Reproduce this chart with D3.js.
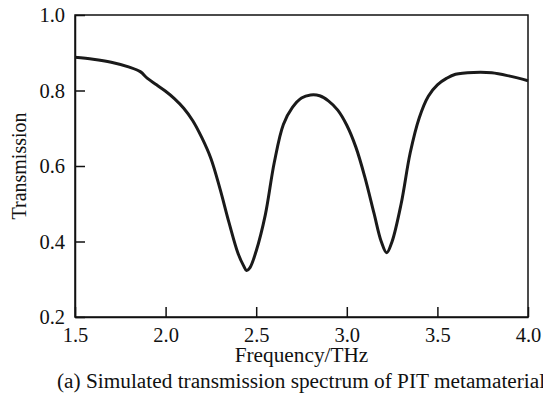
<!DOCTYPE html>
<html>
<head>
<meta charset="utf-8">
<script src="https://cdn.jsdelivr.net/npm/d3@7"></script>
<style>
  body { margin: 0; background: #fff; }
  text { font-family: "Liberation Serif", "Times New Roman", serif; fill: #111; }
</style>
</head>
<body>
<div id="chart"></div>
<script>
// frequency (THz) and transmission
const freq = [1.5, 1.6, 1.7, 1.8, 1.86, 1.9, 1.95, 2.0, 2.05, 2.1, 2.15, 2.2, 2.25, 2.3, 2.35, 2.4, 2.43, 2.447, 2.465, 2.5, 2.55, 2.6, 2.65, 2.7, 2.75, 2.8, 2.85, 2.9, 2.95, 3.0, 3.05, 3.1, 3.15, 3.19, 3.22, 3.25, 3.3, 3.35, 3.4, 3.45, 3.5, 3.55, 3.6, 3.7, 3.8, 3.9, 4.0];
const trans = [0.888, 0.883, 0.875, 0.862, 0.850, 0.832, 0.815, 0.798, 0.778, 0.753, 0.720, 0.675, 0.620, 0.540, 0.450, 0.368, 0.336, 0.323, 0.330, 0.375, 0.470, 0.610, 0.710, 0.755, 0.780, 0.788, 0.786, 0.772, 0.748, 0.708, 0.650, 0.570, 0.475, 0.400, 0.370, 0.400, 0.500, 0.635, 0.728, 0.785, 0.815, 0.832, 0.843, 0.848, 0.847, 0.838, 0.826];

const xTicks = [1.5, 2.0, 2.5, 3.0, 3.5, 4.0];
const yTicks = [0.2, 0.4, 0.6, 0.8, 1.0];

const xTitle = "Frequency/THz";
const yTitle = "Transmission";
const caption = "(a) Simulated transmission spectrum of PIT metamaterial";

const W = 543, H = 399;
const margin = {top: 15, right: 15, bottom: 82, left: 75};
const width = W - margin.left - margin.right;
const height = H - margin.top - margin.bottom;

const svg = d3.select("#chart").append("svg")
    .attr("width", W)
    .attr("height", H);

const g = svg.append("g")
    .attr("transform", `translate(${margin.left},${margin.top})`);

const x = d3.scaleLinear().domain([1.5, 4.0]).range([0, width]);
const y = d3.scaleLinear().domain([0.2, 1.0]).range([height, 0]);

// frame
g.append("rect")
    .attr("width", width)
    .attr("height", height)
    .attr("fill", "none")
    .attr("stroke", "#111")
    .attr("stroke-width", 1.5);

// axes with inward ticks
const xAxis = g.append("g")
    .attr("transform", `translate(0,${height})`)
    .call(d3.axisBottom(x).tickValues(xTicks).tickFormat(d3.format(".1f"))
        .tickSizeInner(-10).tickSizeOuter(0).tickPadding(10));

const yAxis = g.append("g")
    .call(d3.axisLeft(y).tickValues(yTicks).tickFormat(d3.format(".1f"))
        .tickSizeInner(-10).tickSizeOuter(0).tickPadding(10));

[xAxis, yAxis].forEach(a => {
    a.select(".domain").attr("stroke", "#111").attr("stroke-width", 1.5);
    a.selectAll(".tick line").attr("stroke", "#111").attr("stroke-width", 1.5);
    a.selectAll(".tick text")
        .attr("font-family", "Liberation Serif")
        .attr("font-size", 20.5)
        .attr("fill", "#111");
});

// curve
const pts = freq.map((f, i) => [f, trans[i]]);
const line = d3.line()
    .x(d => x(d[0]))
    .y(d => y(d[1]))
    .curve(d3.curveCatmullRom.alpha(0.5));

g.append("path")
    .datum(pts)
    .attr("d", line)
    .attr("fill", "none")
    .attr("stroke", "#1a1a1a")
    .attr("stroke-width", 3);

// titles
svg.append("text")
    .attr("x", margin.left + width / 2)
    .attr("y", 362)
    .attr("text-anchor", "middle")
    .attr("font-size", 21.3)
    .text(xTitle);

svg.append("text")
    .attr("transform", `translate(26,${margin.top + height / 2}) rotate(-90)`)
    .attr("text-anchor", "middle")
    .attr("font-size", 20)
    .text(yTitle);

svg.append("text")
    .attr("x", 57)
    .attr("y", 388)
    .attr("font-size", 21.3)
    .text(caption);
</script>
</body>
</html>
